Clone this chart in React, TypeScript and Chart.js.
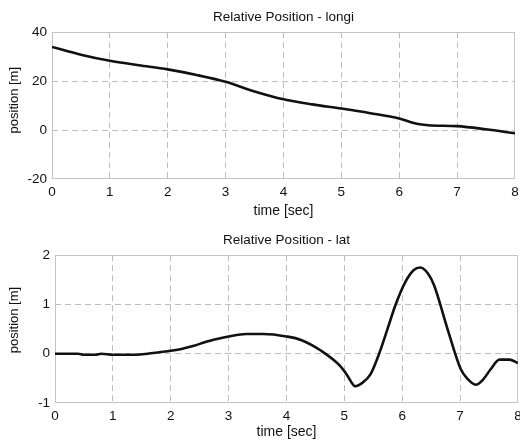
import React, { useEffect, useRef } from "react";
import { Chart, registerables } from "chart.js";

Chart.register(...registerables);

const timeLongi = [0, 0.5, 1, 1.5, 2, 2.5, 3, 3.5, 4, 4.5, 5, 5.5, 6, 6.3, 6.5, 7, 7.5, 8];
const posLongi = [34, 30.8, 28.3, 26.5, 24.8, 22.5, 19.7, 15.8, 12.6, 10.5, 8.8, 6.9, 4.7, 2.6, 2.0, 1.6, 0.3, -1.3];

const timeLat = [0, 0.4, 0.5, 0.7, 0.8, 1.0, 1.4, 1.6, 1.8, 2.0, 2.2, 2.4, 2.6, 2.8, 3.0, 3.3, 3.6, 4.0, 4.25, 4.6, 4.93, 5.05, 5.19, 5.3, 5.45, 5.6, 5.75, 5.88, 6.05, 6.2, 6.31, 6.45, 6.55, 6.78, 7.01, 7.12, 7.27, 7.4, 7.53, 7.68, 7.85, 8];
const posLat = [0, 0, -0.02, -0.02, 0, -0.02, -0.02, 0, 0.03, 0.06, 0.1, 0.16, 0.24, 0.3, 0.35, 0.4, 0.4, 0.35, 0.28, 0.06, -0.25, -0.44, -0.66, -0.6, -0.42, 0.0, 0.52, 0.98, 1.45, 1.7, 1.75, 1.62, 1.39, 0.51, -0.31, -0.5, -0.63, -0.52, -0.31, -0.12, -0.12, -0.19];

const xTicks = [0, 1, 2, 3, 4, 5, 6, 7, 8];
const yTicksLongi = [-20, 0, 20, 40];
const yTicksLat = [-1, 0, 1, 2];

const FONT = "'Liberation Sans', Arial, Helvetica, sans-serif";
const TEXT = "#111111";
const GRID = "#bdbdbd";
const FRAME = "#c4c4c4";

const framePlugin = {
  id: "frame",
  beforeDatasetsDraw(chart: any) {
    const { ctx, chartArea } = chart;
    ctx.save();
    ctx.strokeStyle = FRAME;
    ctx.lineWidth = 1;
    ctx.setLineDash([]);
    const l = Math.round(chartArea.left) + 0.5;
    const t = Math.round(chartArea.top) + 0.5;
    const r = Math.round(chartArea.right) - 0.5;
    const b = Math.round(chartArea.bottom) - 0.5;
    ctx.strokeRect(l, t, r - l, b - t);
    ctx.restore();
  },
};

type Cfg = {
  title: string;
  yTitle: string;
  xs: number[];
  ys: number[];
  yTicks: number[];
  width: number;
  height: number;
  yWidth: number;
  xHeight: number;
  padRight: number;
  titlePad: { top: number; bottom: number };
  xTitleBottom: number;
  tickPad: number;
};

function Plot(props: Cfg) {
  const ref = useRef<HTMLCanvasElement | null>(null);
  useEffect(() => {
    if (!ref.current) return;
    const yMin = props.yTicks[0];
    const yMax = props.yTicks[props.yTicks.length - 1];
    const gridColor = (c: any) => {
      const v = c.tick ? c.tick.value : null;
      const s = c.scale;
      if (v === s.min || v === s.max) return "rgba(0,0,0,0)";
      return GRID;
    };
    const chart = new Chart(ref.current, {
      type: "line",
      data: {
        datasets: [
          {
            data: props.xs.map((x, i) => ({ x, y: props.ys[i] })),
            borderColor: "#111111",
            borderWidth: 2.6,
            pointRadius: 0,
            fill: false,
            cubicInterpolationMode: "monotone",
          },
        ],
      },
      options: {
        responsive: false,
        animation: false,
        layout: { padding: { left: 0, right: props.padRight, top: 0, bottom: 0 } },
        plugins: {
          legend: { display: false },
          tooltip: { enabled: false },
          title: {
            display: true,
            fullSize: false,
            text: props.title,
            color: TEXT,
            font: { family: FONT, size: 13.5, weight: "normal" },
            padding: props.titlePad,
          },
        },
        scales: {
          x: {
            type: "linear",
            min: 0,
            max: 8,
            afterBuildTicks: (s: any) => {
              s.ticks = xTicks.map((v) => ({ value: v }));
            },
            ticks: { color: TEXT, font: { family: FONT, size: 13.5 }, padding: props.tickPad, maxRotation: 0 },
            grid: { color: gridColor, drawTicks: false, lineWidth: 1 },
            border: { display: false, dash: [6, 4] },
            title: {
              display: true,
              text: "time [sec]",
              color: TEXT,
              font: { family: FONT, size: 14 },
              padding: { top: 0, bottom: props.xTitleBottom },
            },
            afterFit: (s: any) => {
              s.height = props.xHeight;
              s.paddingLeft = 0;
              s.paddingRight = 0;
            },
          },
          y: {
            type: "linear",
            min: yMin,
            max: yMax,
            afterBuildTicks: (s: any) => {
              s.ticks = props.yTicks.map((v) => ({ value: v }));
            },
            ticks: { color: TEXT, font: { family: FONT, size: 13.5 }, padding: 5 },
            grid: { color: gridColor, drawTicks: false, lineWidth: 1 },
            border: { display: false, dash: [6, 4] },
            title: {
              display: true,
              text: props.yTitle,
              color: TEXT,
              font: { family: FONT, size: 13 },
              padding: { top: 7, bottom: 0 },
            },
            afterFit: (s: any) => {
              s.width = props.yWidth;
              s.paddingTop = 0;
              s.paddingBottom = 0;
            },
          },
        },
      } as any,
      plugins: [framePlugin],
    });
    return () => chart.destroy();
  }, []);
  return (
    <canvas
      ref={ref}
      width={props.width}
      height={props.height}
      style={{ display: "block", width: props.width, height: props.height }}
    />
  );
}

export default function App() {
  return (
    <div style={{ position: "absolute", left: 0, top: 0, width: 520, height: 441, background: "#fff" }}>
      <div style={{ position: "absolute", left: 0, top: 0 }}>
        <Plot
          title="Relative Position - longi"
          yTitle={"   position [m]"}
          xs={timeLongi}
          ys={posLongi}
          yTicks={yTicksLongi}
          width={520}
          height={222}
          yWidth={52}
          xHeight={43}
          padRight={5}
          titlePad={{ top: 9, bottom: 7 }}
          xTitleBottom={2}
          tickPad={5}
        />
      </div>
      <div style={{ position: "absolute", left: 0, top: 222 }}>
        <Plot
          title="Relative Position - lat"
          yTitle={"     position [m]"}
          xs={timeLat}
          ys={posLat}
          yTicks={yTicksLat}
          width={520}
          height={219}
          yWidth={55}
          xHeight={38}
          padRight={2}
          titlePad={{ top: 10, bottom: 7 }}
          xTitleBottom={0}
          tickPad={5}
        />
      </div>
    </div>
  );
}
